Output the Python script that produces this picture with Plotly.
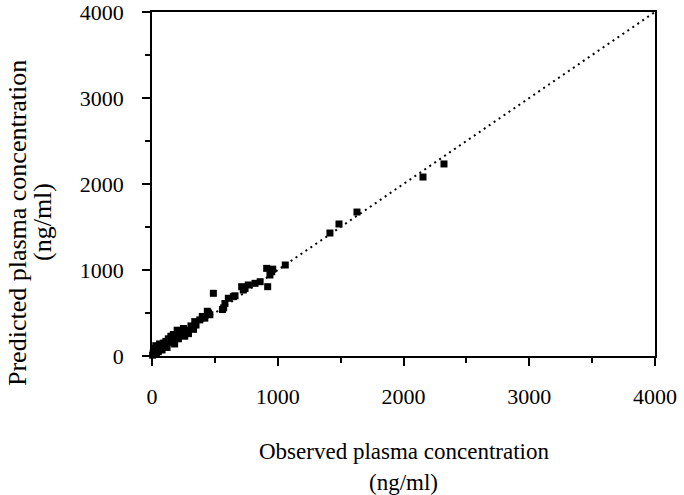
import plotly.graph_objects as go

observed = [5, 10, 15, 20, 25, 30, 35, 40, 50, 55, 60, 70, 80, 90, 100, 110, 120, 130, 140, 150,
            160, 170, 180, 190, 200, 210, 220, 230, 250, 260, 280, 290, 310, 330, 340, 350, 380, 400,
            420, 440, 450, 460, 488, 560, 570, 580, 607, 647, 660, 713, 726, 740, 766, 819, 860,
            912, 920, 938, 952, 960, 1060, 1415, 1487, 1630, 2155, 2322]
predicted = [10, 40, 90, 20, 60, 120, 30, 80, 50, 110, 140, 90, 70, 150, 120, 170, 100, 200, 160, 230,
             180, 250, 140, 220, 300, 200, 270, 240, 320, 230, 300, 260, 350, 310, 400, 360, 420, 460,
             440, 520, 500, 480, 729, 540, 560, 610, 671, 690, 700, 806, 767, 787, 826, 845, 864,
             1019, 806, 942, 980, 1010, 1058, 1430, 1535, 1674, 2081, 2233]

identity = [0, 4000]
tick_vals = [0, 1000, 2000, 3000, 4000]

fig = go.Figure()
fig.add_trace(go.Scatter(x=identity, y=identity, mode="lines",
                         line=dict(color="black", width=2, dash="2px,4px"),
                         hoverinfo="skip", showlegend=False, cliponaxis=False))
fig.add_trace(go.Scatter(x=observed, y=predicted, mode="markers",
                         marker=dict(symbol="square", size=7, color="black"),
                         showlegend=False, cliponaxis=False))

font = "Liberation Serif, Times New Roman, serif"
axis_common = dict(range=[0, 4000], tickvals=tick_vals, showgrid=False, zeroline=False,
                   showline=True, linecolor="black", linewidth=1.5, mirror=True,
                   ticks="outside", ticklen=8, tickcolor="black", tickwidth=1.5,
                   minor=dict(dtick=500, ticks="outside", ticklen=5, tickcolor="black", tickwidth=1.5),
                   tickfont=dict(family=font, size=22, color="black"),
                   automargin=False, ticklabeloverflow="allow")

fig.update_layout(
    width=684, height=495,
    margin=dict(l=152, r=29, t=12, b=139, autoexpand=False),
    plot_bgcolor="white", paper_bgcolor="white",
    xaxis=dict(**axis_common, ticklabelstandoff=12),
    yaxis=dict(**axis_common, ticklabelstandoff=14),
    annotations=[
        dict(text="Observed plasma concentration", xref="paper", yref="paper",
             x=0.5, y=(356 - 451) / 344, xanchor="center", yanchor="middle", showarrow=False,
             font=dict(family=font, size=23, color="black")),
        dict(text="(ng/ml)", xref="paper", yref="paper",
             x=0.5, y=(356 - 482) / 344, xanchor="center", yanchor="middle", showarrow=False,
             font=dict(family=font, size=23, color="black")),
        dict(text="Predicted plasma concentration", xref="paper", yref="paper",
             x=(17 - 152) / 503, y=(356 - 223) / 344, xanchor="center", yanchor="middle",
             textangle=-90, showarrow=False,
             font=dict(family=font, size=26, color="black")),
        dict(text="(ng/ml)", xref="paper", yref="paper",
             x=(42 - 152) / 503, y=(356 - 222) / 344, xanchor="center", yanchor="middle",
             textangle=-90, showarrow=False,
             font=dict(family=font, size=26, color="black")),
    ],
)

fig.write_html("out.html", config={"displayModeBar": False},
               post_script="document.body.style.margin='0';document.body.style.overflow='hidden';")
